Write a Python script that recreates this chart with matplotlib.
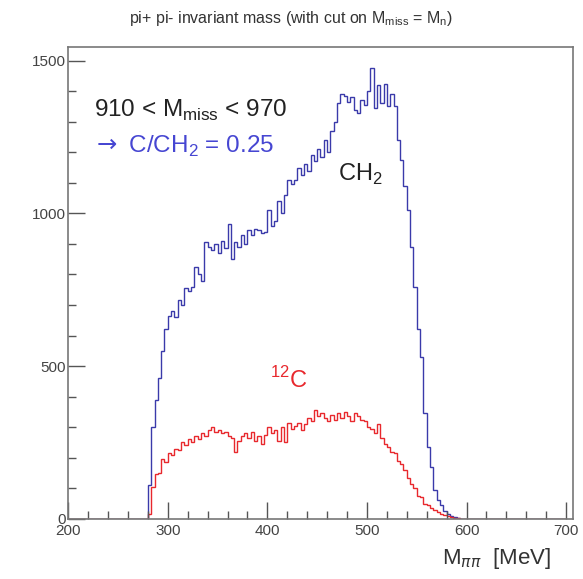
import numpy as np
import matplotlib.pyplot as plt

plt.rcParams['font.family'] = ['Liberation Sans', 'DejaVu Sans']

# histogram binning: 150 bins from 200 to 700 MeV, data only between 280 and 600
x_min, x_max, n_bins = 200, 700, 150

ch2_counts = [
    110, 300, 390, 460, 550, 620, 665, 680, 660, 715,
    700, 755, 745, 760, 825, 800, 780, 905, 890, 880,
    900, 870, 910, 885, 965, 850, 905, 890, 930, 900,
    945, 930, 950, 945, 935, 940, 1010, 960, 975, 1040,
    1000, 1060, 1110, 1095, 1110, 1150, 1125, 1160, 1140, 1190,
    1170, 1210, 1185, 1240, 1200, 1270, 1300, 1360, 1390, 1385,
    1365, 1380, 1340, 1330, 1370, 1355, 1400, 1475, 1345, 1420,
    1360, 1425, 1350, 1390, 1350, 1240, 1175, 1090, 1010, 890,
    760, 620, 530, 345, 235, 170, 95, 60, 45, 25,
    15, 8, 5, 2, 0, 0,
]

c12_counts = [
    15, 105, 145, 150, 195, 185, 215, 210, 230, 225,
    250, 240, 260, 250, 270, 260, 280, 270, 290, 300,
    285, 290, 280, 285, 270, 265, 220, 255, 270, 280,
    265, 285, 255, 270, 245, 275, 300, 280, 290, 255,
    300, 250, 315, 295, 305, 315, 290, 310, 330, 320,
    355, 335, 345, 330, 320, 340, 325, 345, 330, 350,
    335, 320, 345, 335, 325, 320, 300, 295, 280, 310,
    265, 245, 235, 220, 215, 190, 180, 160, 135, 115,
    100, 75, 70, 50, 45, 35, 28, 22, 15, 12,
    8, 5, 3, 2, 0, 0,
]

zeros_before = [0] * 24
zeros_after = [0] * 30

edges = np.linspace(x_min, x_max, n_bins + 1)
ch2 = np.array(zeros_before + ch2_counts + zeros_after, dtype=float)
c12 = np.array(zeros_before + c12_counts + zeros_after, dtype=float)

fig = plt.figure(figsize=(5.83, 5.79), dpi=100)
ax = fig.add_axes([0.117, 0.104, 0.866, 0.815])

ax.stairs(ch2, edges, color='#3a3aaa', lw=1.0)
ax.stairs(c12, edges, color='#e8282d', lw=1.0)

ax.set_xlim(200, 707)
ax.set_ylim(0, 1545)

ax.set_xticks([200, 300, 400, 500, 600, 700])
ax.set_xticks(np.arange(200, 701, 20), minor=True)
ax.set_yticks([0, 500, 1000, 1500])
ax.set_yticks(np.arange(0, 1501, 100), minor=True)
ax.tick_params(which='both', direction='in', colors='#555555', labelcolor='#444444',
               labelsize=11, top=False, right=False)
ax.tick_params(which='major', length=12, width=1.0)
ax.tick_params(which='minor', length=6, width=1.0)
ax.tick_params(axis='y', pad=2)
for s in ax.spines.values():
    s.set_color('#777777')
    s.set_linewidth(1.2)

fig.text(0.5, 0.968, r'pi+ pi- invariant mass (with cut on M$_{\mathregular{miss}}$ = M$_{\mathregular{n}}$)',
         ha='center', va='center', fontsize=11.5, color='#333333')

ax.text(0.052, 0.865, r'910 < M$_{\mathregular{miss}}$ < 970', transform=ax.transAxes,
        fontsize=17.5, color='#222222', va='center')
ax.text(0.048, 0.79, r'$\rightarrow$ C/CH$_{\mathregular{2}}$ = 0.25', transform=ax.transAxes,
        fontsize=17.5, color='#4646d2', va='center')
ax.text(0.535, 0.73, r'CH$_{\mathregular{2}}$', transform=ax.transAxes,
        fontsize=17, color='#222222', va='center')
ax.text(0.40, 0.295, r'$^{\mathregular{12}}$C', transform=ax.transAxes,
        fontsize=17, color='#e8282d', va='center')

fig.text(0.945, 0.035, r'M$_{\pi\pi}$  [MeV]', ha='right', va='center',
         fontsize=16, color='#333333')

fig.savefig('out.png', dpi=100)
